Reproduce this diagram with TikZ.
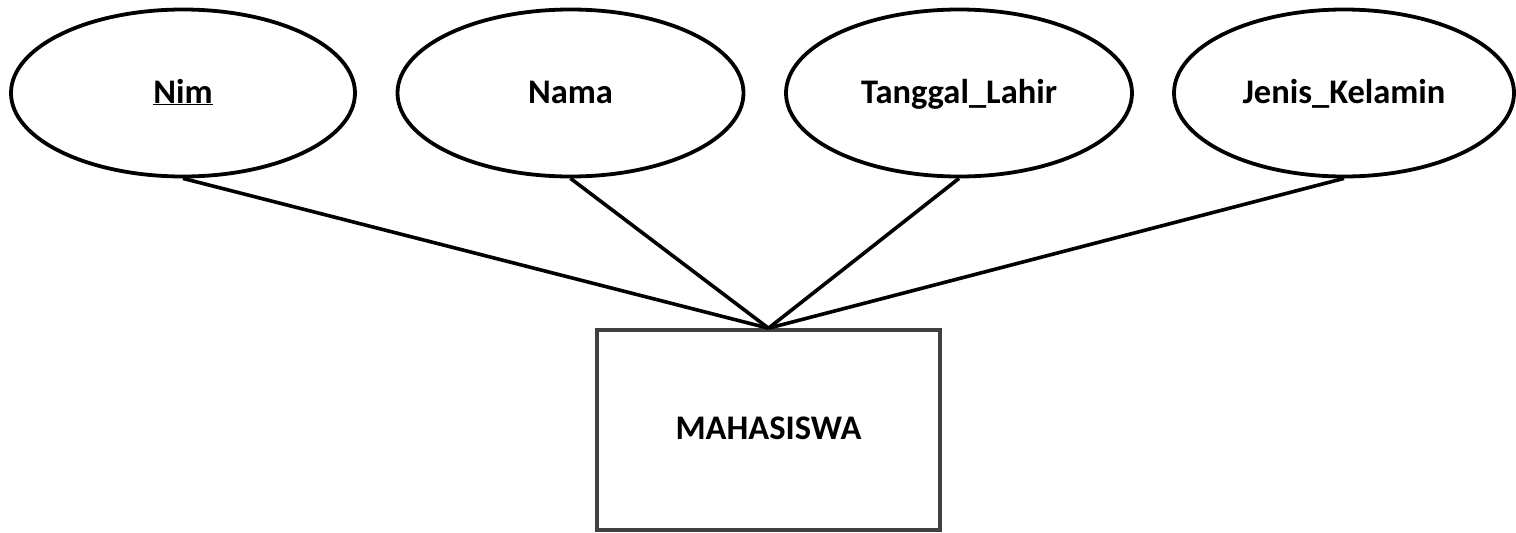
\documentclass[tikz,border=0pt]{standalone}
\usepackage{fontspec}
\setmainfont{Carlito}
\usetikzlibrary{shapes.geometric}
\begin{document}
\begin{tikzpicture}[x=1pt,y=-1pt,
  attr/.style={draw=black,line width=3.8pt,ellipse,minimum width=344pt,minimum height=167pt,inner sep=0pt,text height=28pt,text depth=8pt,font=\fontsize{34.5}{40}\selectfont\bfseries},
  entity/.style={draw=black!75,line width=3.6pt,rectangle,minimum width=343pt,minimum height=200pt,inner sep=0pt,text height=26pt,text depth=8pt,font=\fontsize{34.5}{40}\selectfont\bfseries},
  link/.style={line width=3.6pt,draw=black}]
\useasboundingbox (0,0) rectangle (1516,533);
\node[attr] (nim) at (183,93) {\underline{Nim}};
\node[attr,minimum width=346pt] (nama) at (570.5,93) {Nama};
\node[attr,minimum width=346pt] (tgl) at (959,93) {Tanggal\_Lahir};
\node[attr,minimum width=340pt] (jk) at (1344,93) {Jenis\_Kelamin};
\node[entity] (mhs) at (768.5,430) {MAHASISWA};
\draw[link] (nim.south) -- (mhs.north);
\draw[link] (nama.south) -- (mhs.north);
\draw[link] (tgl.south) -- (mhs.north);
\draw[link] (jk.south) -- (mhs.north);
\end{tikzpicture}
\end{document}
